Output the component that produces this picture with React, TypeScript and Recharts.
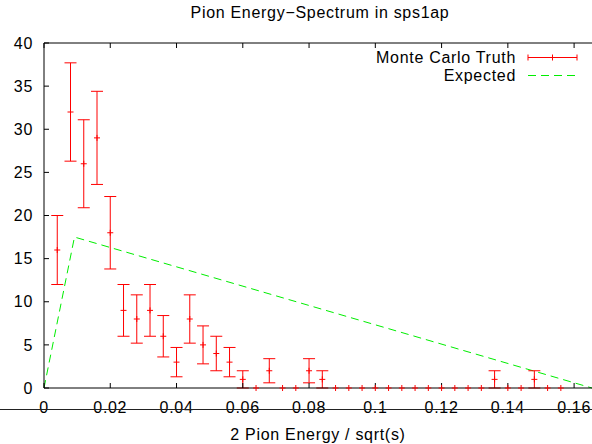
import React from 'react';
import { ComposedChart, Scatter, Line, XAxis, YAxis, ErrorBar } from 'recharts';

// Monte Carlo truth histogram (bin centres, counts, error bars)
const binCenters = [
  0.004, 0.008, 0.012, 0.016, 0.020, 0.024, 0.028, 0.032, 0.036, 0.040,
  0.044, 0.048, 0.052, 0.056, 0.060, 0.064, 0.068, 0.072, 0.076, 0.080,
  0.084, 0.088, 0.092, 0.096, 0.100, 0.104, 0.108, 0.112, 0.116, 0.120,
  0.124, 0.128, 0.132, 0.136, 0.140, 0.144, 0.148, 0.152, 0.156,
];
const counts = [
  16, 32, 26, 29, 18, 9, 8, 9, 6, 3,
  8, 5, 4, 3, 1, 0, 2, 0, 0, 2,
  1, 0, 0, 0, 0, 0, 0, 0, 0, 0,
  0, 0, 0, 1, 0, 0, 1, 0, 0,
];
const errors = [
  4, 5.7, 5.1, 5.4, 4.2, 3, 2.8, 3, 2.4, 1.7,
  2.8, 2.2, 2, 1.7, 1, 0, 1.4, 0, 0, 1.4,
  1, 0, 0, 0, 0, 0, 0, 0, 0, 0,
  0, 0, 0, 1, 0, 0, 1, 0, 0,
];

// Expected curve
const expectedX = [0, 0.0092, 0.1654];
const expectedY = [0, 17.5, 0];

const xTicks = [0, 0.02, 0.04, 0.06, 0.08, 0.1, 0.12, 0.14, 0.16];
const yTicks = [0, 5, 10, 15, 20, 25, 30, 35, 40];

const truthData = binCenters.map((x, i) => ({ x, y: counts[i], err: errors[i] }));
const expectedData = expectedX.map((x, i) => ({ x, e: expectedY[i] }));

const FONT = "'Liberation Sans', Arial, Helvetica, sans-serif";
const textStyle = { fontFamily: FONT, fontSize: 16, letterSpacing: 0.7 };

const Plus = (props: any) => {
  const { cx, cy } = props;
  if (cx == null || cy == null) return null;
  return (
    <path
      d={`M${cx - 3},${cy}h6M${cx},${cy - 3}v6`}
      stroke="#ff0000"
      strokeWidth={1}
      fill="none"
    />
  );
};

const fmt = (v: number) => String(+v.toFixed(2));

export default function App() {
  return (
    <div style={{ position: 'absolute', left: 0, top: 0, width: 592, height: 444, background: '#fff' }}>
      <ComposedChart
        width={592}
        height={444}
        margin={{ top: 42, right: 0, bottom: 0, left: 0 }}
        style={{ position: 'absolute', left: 0, top: 0 }}
      >
        <XAxis
          xAxisId="bottom"
          dataKey="x"
          type="number"
          domain={[0, 0.1654]}
          ticks={xTicks}
          tickFormatter={fmt}
          allowDataOverflow
          height={56}
          stroke="#000"
          tickSize={-5}
          tickMargin={19}
          tick={{ fill: '#000', ...textStyle }}
          label={{
            value: '2 Pion Energy / sqrt(s)',
            position: 'insideBottom',
            offset: 4,
            fill: '#000',
            ...textStyle,
          }}
        />
        <XAxis
          xAxisId="top"
          orientation="top"
          dataKey="x"
          type="number"
          domain={[0, 0.1654]}
          ticks={xTicks}
          allowDataOverflow
          height={1}
          stroke="#000"
          tickSize={-5}
          tick={() => <g />}
        />
        <YAxis
          yAxisId="left"
          type="number"
          domain={[0, 40]}
          ticks={yTicks}
          width={44}
          stroke="#000"
          tickSize={-5}
          tickMargin={16}
          tick={{ fill: '#000', ...textStyle }}
        />
        <Line
          xAxisId="bottom"
          yAxisId="left"
          data={expectedData}
          dataKey="e"
          type="linear"
          stroke="#00ee00"
          strokeWidth={1}
          strokeDasharray="8 5"
          dot={false}
          activeDot={false}
          isAnimationActive={false}
        />
        <Scatter
          xAxisId="bottom"
          yAxisId="left"
          data={truthData}
          dataKey="y"
          shape={<Plus />}
          isAnimationActive={false}
        >
          <ErrorBar dataKey="err" direction="y" width={6} stroke="#ff0000" strokeWidth={1} isAnimationActive={false} />
        </Scatter>
      </ComposedChart>
      <svg
        width={592}
        height={444}
        style={{ position: 'absolute', left: 0, top: 0, pointerEvents: 'none' }}
      >
        <text x={320} y={18} textAnchor="middle" fill="#000" style={textStyle}>
          Pion Energy−Spectrum in sps1ap
        </text>
        <line x1={0} x2={592} y1={409.5} y2={409.5} stroke="#222" strokeWidth={1} />
        {/* legend */}
        <text x={516} y={63} textAnchor="end" fill="#000" style={textStyle}>
          Monte Carlo Truth
        </text>
        <path
          d="M528,57.5H577M528,54.5v6M577,54.5v6M552.5,54.5v6"
          stroke="#ff0000"
          strokeWidth={1}
          fill="none"
        />
        <text x={516} y={81} textAnchor="end" fill="#000" style={textStyle}>
          Expected
        </text>
        <line x1={528} x2={577} y1={75.5} y2={75.5} stroke="#00ee00" strokeWidth={1} strokeDasharray="8 5" />
      </svg>
    </div>
  );
}
